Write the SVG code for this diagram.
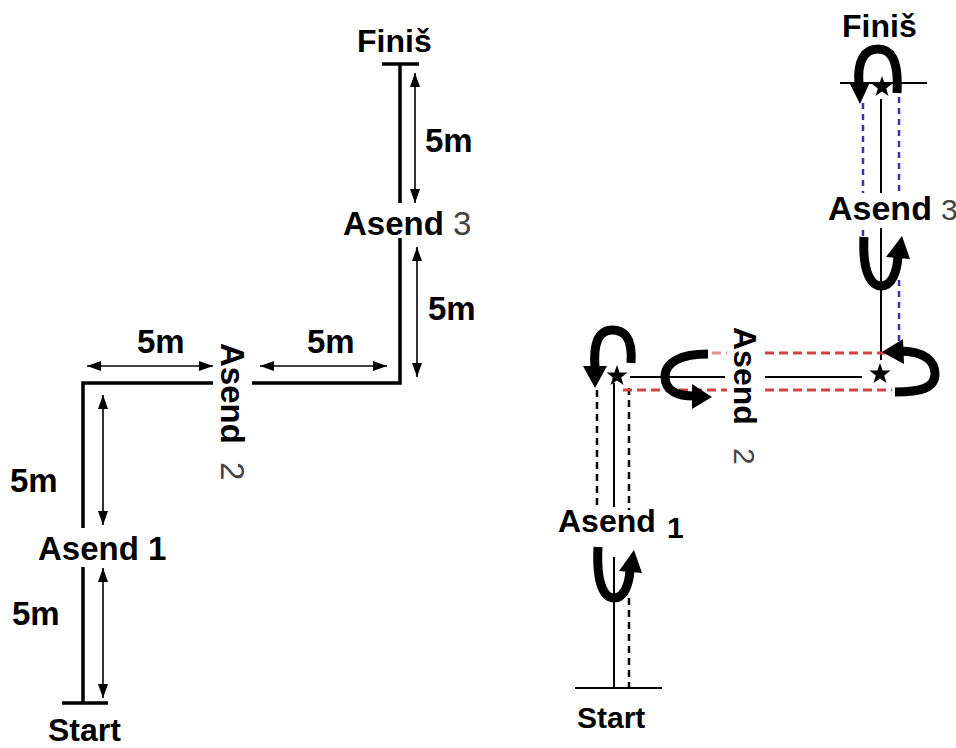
<svg xmlns="http://www.w3.org/2000/svg" width="956" height="748" viewBox="0 0 956 748">
<style>
text{font-family:"Liberation Sans",Arial,sans-serif;font-weight:bold;fill:#000}
.lbl{font-size:33px}
.n{font-weight:normal;fill:#444}
.thick{stroke:#000;stroke-width:3.5;fill:none}
.dim{stroke:#000;stroke-width:1.6;fill:none;marker-start:url(#ah);marker-end:url(#ah)}
.thin{stroke:#000;stroke-width:2;fill:none}
.bdash{stroke:#000;stroke-width:2.5;stroke-dasharray:7 5;fill:none}
.blue{stroke:#3535b0;stroke-width:2.5;stroke-dasharray:6 5;fill:none}
.red{stroke:#d04444;stroke-width:3;stroke-dasharray:9 5;fill:none}
.loop{stroke:#000;stroke-width:9;fill:none}
</style>
<defs>
<marker id="ah" viewBox="0 0 14 10" refX="14" refY="5" markerWidth="14" markerHeight="10" markerUnits="userSpaceOnUse" orient="auto-start-reverse">
<path d="M0,0 L14,5 L0,10 z" fill="#000"/>
</marker>
<polygon id="star" points="0,-11 2.6,-3.6 10.5,-3.4 4.2,1.4 6.5,9 0,4.5 -6.5,9 -4.2,1.4 -10.5,-3.4 -2.6,-3.6" fill="#000"/>
</defs>
<rect width="956" height="748" fill="#fff"/>

<g id="connectors">
<!-- left course -->
<line class="thick" x1="382" y1="64" x2="419" y2="64"/>
<line class="thick" x1="400" y1="64" x2="400" y2="203"/>
<polyline class="thick" points="400,238 400,383 252,383"/>
<polyline class="thick" points="213,383 83,383 83,528"/>
<line class="thick" x1="83" y1="567" x2="83" y2="703"/>
<line class="thick" x1="62" y1="703" x2="108" y2="703"/>
<line class="dim" x1="415" y1="73" x2="415" y2="203"/>
<line class="dim" x1="417" y1="247" x2="417" y2="377"/>
<line class="dim" x1="87" y1="366" x2="213" y2="366"/>
<line class="dim" x1="260" y1="366" x2="387" y2="366"/>
<line class="dim" x1="103" y1="395" x2="103" y2="525"/>
<line class="dim" x1="103" y1="568" x2="103" y2="698"/>

<!-- right course -->
<line class="thin" x1="840" y1="83" x2="927" y2="83" stroke-width="2.5"/>
<line class="thin" x1="881" y1="99" x2="881" y2="193"/>
<line class="thin" x1="881" y1="228" x2="881" y2="360"/>
<line class="thin" x1="630" y1="377" x2="725" y2="377"/>
<line class="thin" x1="765" y1="377" x2="862" y2="377"/>
<line class="thin" x1="614" y1="383" x2="614" y2="507"/>
<line class="thin" x1="614" y1="557" x2="614" y2="688"/>
<line class="thin" x1="575" y1="688" x2="662" y2="688" stroke-width="2.5"/>
<line class="bdash" x1="597" y1="390" x2="597" y2="505"/>
<line class="bdash" x1="629" y1="388" x2="629" y2="510"/>
<line class="bdash" x1="629" y1="598" x2="629" y2="688"/>
<line class="blue" x1="863" y1="103" x2="863" y2="193"/>
<line class="blue" x1="863" y1="230" x2="863" y2="242"/>
<line class="blue" x1="899" y1="97" x2="899" y2="193"/>
<line class="blue" x1="899" y1="280" x2="899" y2="343"/>
<line class="red" x1="712" y1="353" x2="727" y2="353" stroke-dasharray="4 5" opacity="0.6"/>
<line class="red" x1="765" y1="353" x2="888" y2="353"/>
<line class="red" x1="623" y1="390" x2="727" y2="390"/>
<line class="red" x1="765" y1="390" x2="892" y2="390" stroke="#a84a4a"/>

<!-- U-turn arrows -->
<path class="loop" d="M897,93 C899,58 890,49 878,49 C865,49 857,60 859,84"/>
<polygon points="849,82 870,82 860,104" fill="#000"/>
<path class="loop" d="M864,237 C862,276 873,286 881,286 C892,286 897,272 898,256"/>
<polygon points="886,257 910,259 902,236" fill="#000"/>
<path class="loop" d="M631,363 C633,336 623,330 612,330 C599,330 593,342 595,368"/>
<polygon points="583,366 607,366 595,388" fill="#000"/>
<path class="loop" d="M708,354 C681,354 665,362 665,377 C665,391 678,396 694,396"/>
<polygon points="692,384 712,397 692,409" fill="#000"/>
<path class="loop" d="M899,351 C926,351 935,362 935,374 C935,388 921,392 895,392"/>
<polygon points="903,339 882,352 904,364" fill="#000"/>
<path class="loop" d="M598,547 C596,586 605,598 614,598 C624,598 629,585 630,570"/>
<polygon points="619,571 642,573 634,550" fill="#000"/>
</g>

<!-- left diagram nodes -->
<g id="finish-left"><text x="357" y="52" style="font-size:32px">Finiš</text></g>
<g id="asend3-left"><text x="343" y="235" class="lbl">Asend <tspan class="n">3</tspan></text></g>
<g id="asend2-left"><text transform="translate(221,343) rotate(90)" class="lbl">Asend<tspan x="119" class="n">2</tspan></text></g>
<g id="asend1-left"><text x="38" y="560" class="lbl">Asend 1</text></g>
<g id="start-left"><text x="48" y="741" style="font-size:32px">Start</text></g>
<g id="dims-left">
<text x="425" y="152" class="lbl">5m</text>
<text x="428" y="320" class="lbl">5m</text>
<text x="137" y="353" class="lbl">5m</text>
<text x="307" y="353" class="lbl">5m</text>
<text x="10" y="492" class="lbl">5m</text>
<text x="12" y="625" class="lbl">5m</text>
</g>

<!-- right diagram nodes -->
<g id="finish-right"><text x="842" y="37" style="font-size:32px">Finiš</text><use href="#star" x="882" y="87"/></g>
<g id="asend3-right"><text x="828" y="220" style="font-size:34px">Asend<tspan x="941" class="n" style="font-size:30px">3</tspan></text></g>
<g id="asend2-right"><text transform="translate(734,327) rotate(90)" style="font-size:32px">Asend<tspan x="121" class="n" style="font-size:30px">2</tspan></text><use href="#star" x="617" y="376"/><use href="#star" x="880" y="374"/></g>
<g id="asend1-right"><text x="558" y="532" style="font-size:32px">Asend<tspan x="667" y="538" style="font-size:30px">1</tspan></text></g>
<g id="start-right"><text x="577" y="728" style="font-size:30px">Start</text></g>
</svg>
